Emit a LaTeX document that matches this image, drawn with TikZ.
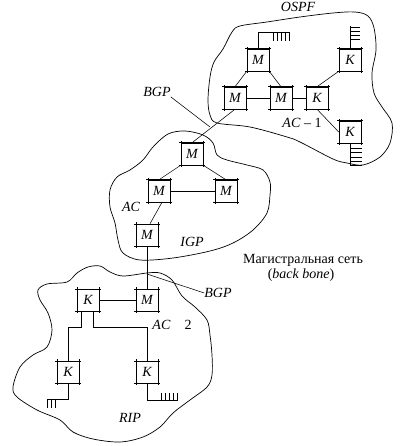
\documentclass[tikz,border=0pt]{standalone}
\usepackage{fontspec}
\setmainfont{Liberation Serif}
\begin{document}
\begin{tikzpicture}[x=1pt,y=-1pt,
  box/.style={draw,fill=white,minimum size=22pt,inner sep=0pt,line width=0.5pt,
    font=\fontsize{14}{16}\selectfont\itshape},
  lbl/.style={inner sep=0pt,font=\fontsize{14}{16}\selectfont\itshape},
  txt/.style={inner sep=0pt,font=\fontsize{14}{16}\selectfont},
  link/.style={line width=0.55pt},
  cornertick/.style={line width=0.5pt},
  blob/.style={line width=0.7pt}]
\useasboundingbox (0,0) rectangle (405,446);

% ---- outlines of the three systems
\draw[blob] plot[smooth cycle,tension=0.55] coordinates {
 (232,32) (240,26) (267,22) (300,17) (333,13) (355,12) (368,16) (374,28)
 (376,50) (372,73) (374,93) (382,107) (392,123) (390,143) (380,157)
 (363,165) (347,163) (333,159) (300,142) (287,137) (250,127) (217,123)
 (210,115) (208,100) (210,77) (214,62) (223,49)};
\draw[blob] plot[smooth cycle,tension=0.55] coordinates {
 (168,134) (185,131) (203,135) (213,143) (217,155) (227,160) (247,165)
 (263,170) (270,182) (270,195) (267,213) (253,230) (233,243) (210,251)
 (173,258) (140,260) (123,253) (118,240) (115,223) (110,207) (110,190)
 (117,177) (130,170) (143,160) (153,147)};
\draw[blob] plot[smooth cycle,tension=0.55] coordinates {
 (38,290) (47,284) (67,282) (77,273) (88,267) (100,266) (110,272)
 (123,276) (147,273) (160,273) (172,280) (182,296) (195,307) (207,320)
 (210,335) (212,355) (212,375) (207,387) (190,400) (173,413) (160,427)
 (143,437) (120,442) (93,439) (73,432) (60,420) (37,410) (17,397)
 (13,387) (20,367) (33,355) (47,347) (52,330) (48,313) (40,300)};

% ---- routers, AS 1
\node[box] (mt)  at (258,60)  {M};
\node[box] (ml)  at (235,98)  {M};
\node[box] (mm)  at (281,98)  {M};
\node[box] (km)  at (317,98)  {K};
\node[box] (ktr) at (350,60)  {K};
\node[box] (kbr) at (350,132) {K};
% ---- routers, backbone
\node[box] (bt) at (192,154) {M};
\node[box] (bl) at (159,191) {M};
\node[box] (br) at (226,191) {M};
\node[box] (bb) at (147,235) {M};
% ---- routers, AS 2
\node[box] (kl)  at (88,300)  {K};
\node[box] (mr)  at (147,300) {M};
\node[box] (kb1) at (68,372)  {K};
\node[box] (kb2) at (147,372) {K};

% corner marks of the boxes
\foreach \n in {mt,ml,mm,km,ktr,kbr,bt,bl,br,bb,kl,mr,kb1,kb2}{
  \draw[cornertick] ([xshift=-1.5pt]\n.north west) -- ([xshift=1.5pt]\n.north east);
  \draw[cornertick] ([xshift=-1.5pt]\n.south west) -- ([xshift=1.5pt]\n.south east);
  \draw[cornertick] ([yshift=1.5pt]\n.north west) -- ([yshift=-1.5pt]\n.south west);
  \draw[cornertick] ([yshift=1.5pt]\n.north east) -- ([yshift=-1.5pt]\n.south east);
}

% ---- links
\draw[link] (mt.south west) -- (ml.north);
\draw[link] (mt.south east) -- (mm.north);
\draw[link] (ml) -- (mm);
\draw[link] (mm) -- (km);
\draw[link] (km.north) -- (ktr.south west);
\draw[link] (km.south) -- (kbr.west);
\draw[link] (ml.south) -- (bt.north);
\draw[link] (bt.south west) -- (bl.north);
\draw[link] (bt.south east) -- (br.north);
\draw[link] (bl) -- (br);
\draw[link] ([xshift=3pt]bl.south) -- ([xshift=3pt]bb.north);
\draw[link] (bb) -- (mr);
\draw[link] (kl) -- (mr);
\draw[link] ([xshift=-7pt]kl.south) -- ++(0,16) -| (kb1.north);
\draw[link] ([xshift=5pt]kl.south) -- ++(0,16) -| (kb2.north);

% ---- local networks (stubs)
\draw[link] (mt.north) -- ++(0,-16) -- ++(32,0);
\foreach \i in {15,19,23,27,31}
  \draw[link] ([xshift=\i pt,yshift=16pt]mt.north) -- ++(0,8);
\draw[link] (ktr.north) -- ++(0,-23);
\foreach \i in {21,17,13,9}
  \draw[link] ([yshift=\i pt]ktr.north) -- ++(10,0);
\draw[link] (kbr.south) -- ++(0,22);
\foreach \i in {5,9,14,18,22}
  \draw[link] ([yshift=-\i pt]kbr.south) -- ++(12,0);
\draw[link] (kb1.south) -- ++(0,16) -- ++(-21,0);
\foreach \i in {-21,-17,-13}
  \draw[link] ([xshift=\i pt,yshift=-16pt]kb1.south) -- ++(0,9);
\draw[link] (kb2.south) -- ++(0,17) -- ++(31,0);
\foreach \i in {14,18,22,26,30}
  \draw[link] ([xshift=\i pt,yshift=-17pt]kb2.south) -- ++(0,-7);

% ---- labels
\node[lbl] (ospf) at (298,7) {OSPF};
\node[txt] (as1) at (302,123) {\textit{AC} – 1};
\node[lbl] (bgp1) at (157,92) {BGP};
\node[lbl] (acb) at (131,207) {AC};
\node[lbl] (igp) at (192,242) {IGP};
\node[lbl] (bgp2) at (218,293) {BGP};
\node[txt] (as2) at (172,325) {\textit{AC}\hspace{14pt}2};
\node[lbl] (rip) at (130,418) {RIP};
\node[txt] (bbt1) at (303,260) {Магистральная сеть};
\node[txt] (bbt2) at (301,275) {(\textit{back bone})};

\coordinate (b1end) at (210,127);
\coordinate (b2start) at (147,274);
\draw[link] (bgp1.south east) -- (b1end);
\draw[link] (b2start) -- (bgp2.west);
\end{tikzpicture}
\end{document}
